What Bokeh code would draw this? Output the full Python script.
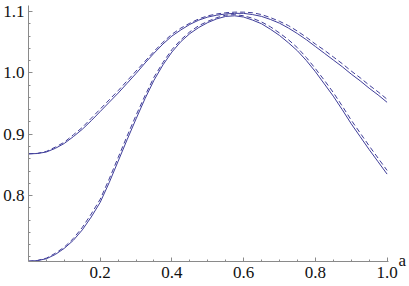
from bokeh.plotting import figure
from bokeh.models import Range1d, FixedTicker, LinearAxis
from bokeh.embed import file_html
from bokeh.resources import INLINE

# parameter a
a_vals = [0.000, 0.025, 0.050, 0.075, 0.100, 0.125, 0.150, 0.175, 0.200, 0.225,
          0.250, 0.275, 0.300, 0.325, 0.350, 0.375, 0.400, 0.425, 0.450, 0.475,
          0.500, 0.525, 0.550, 0.575, 0.600, 0.625, 0.650, 0.675, 0.700, 0.725,
          0.750, 0.775, 0.800, 0.825, 0.850, 0.875, 0.900, 0.925, 0.950, 0.975, 1.000]

upper_solid = [0.868, 0.8685, 0.871, 0.877, 0.885, 0.896, 0.908, 0.922, 0.937, 0.952,
               0.967, 0.983, 0.999, 1.016, 1.032, 1.047, 1.060, 1.070, 1.079, 1.086,
               1.091, 1.094, 1.096, 1.097, 1.097, 1.095, 1.092, 1.087, 1.081, 1.073,
               1.064, 1.054, 1.043, 1.032, 1.021, 1.010, 0.998, 0.987, 0.975, 0.964, 0.952]
upper_dashed = [0.868, 0.8688, 0.872, 0.879, 0.887, 0.899, 0.911, 0.926, 0.941, 0.956,
                0.971, 0.987, 1.003, 1.019, 1.035, 1.050, 1.063, 1.073, 1.081, 1.088,
                1.093, 1.096, 1.098, 1.099, 1.099, 1.098, 1.095, 1.090, 1.084, 1.077,
                1.068, 1.058, 1.047, 1.037, 1.026, 1.015, 1.003, 0.992, 0.980, 0.969, 0.957]
lower_solid = [0.693, 0.694, 0.697, 0.704, 0.714, 0.727, 0.744, 0.765, 0.789, 0.821,
               0.856, 0.891, 0.925, 0.958, 0.988, 1.013, 1.034, 1.051, 1.064, 1.074,
               1.082, 1.088, 1.092, 1.093, 1.091, 1.086, 1.080, 1.071, 1.061, 1.049,
               1.036, 1.020, 1.002, 0.982, 0.962, 0.940, 0.917, 0.896, 0.875, 0.855, 0.835]
lower_dashed = [0.693, 0.6942, 0.698, 0.706, 0.716, 0.730, 0.748, 0.770, 0.794, 0.827,
                0.862, 0.897, 0.931, 0.963, 0.993, 1.017, 1.038, 1.054, 1.067, 1.077,
                1.084, 1.090, 1.094, 1.095, 1.093, 1.089, 1.083, 1.075, 1.065, 1.054,
                1.041, 1.025, 1.007, 0.988, 0.968, 0.946, 0.923, 0.902, 0.881, 0.861, 0.841]

x_ticks = [0.2, 0.4, 0.6, 0.8, 1.0]
x_minor = [0.05, 0.10, 0.15, 0.25, 0.30, 0.35, 0.45, 0.50, 0.55, 0.65, 0.70, 0.75,
           0.85, 0.90, 0.95]
y_ticks = [0.8, 0.9, 1.0, 1.1]
y_minor = [0.70, 0.72, 0.74, 0.76, 0.78, 0.82, 0.84, 0.86, 0.88, 0.92, 0.94, 0.96,
           0.98, 1.02, 1.04, 1.06, 1.08]
x_label = "a"
x_label_at = 0.6935

line_color = "#3f3d99"
axis_color = "#8a8a8a"
font = "Liberation Serif"

p = figure(width=409, height=286, x_range=Range1d(0, 1.004), y_range=Range1d(0.6925, 1.1098),
           output_backend="svg", toolbar_location=None,
           min_border_left=26, min_border_right=15, min_border_top=5, min_border_bottom=25)
p.outline_line_color = None
p.xgrid.visible = False
p.ygrid.visible = False
p.background_fill_color = "white"

p.line(a_vals, upper_solid, line_color=line_color, line_width=1)
p.line(a_vals, upper_dashed, line_color=line_color, line_width=1, line_dash="5 3")
p.line(a_vals, lower_solid, line_color=line_color, line_width=1)
p.line(a_vals, lower_dashed, line_color=line_color, line_width=1, line_dash="5 3")

for ax, ticks, minor in ((p.xaxis[0], x_ticks, x_minor), (p.yaxis[0], y_ticks, y_minor)):
    ax.ticker = FixedTicker(ticks=ticks, minor_ticks=minor)
    ax.axis_line_color = axis_color
    ax.major_tick_line_color = axis_color
    ax.minor_tick_line_color = axis_color
    ax.major_tick_in = 4
    ax.major_tick_out = 0
    ax.minor_tick_in = 2
    ax.minor_tick_out = 0
    ax.major_label_text_font = font
    ax.major_label_text_font_size = "17px"
    ax.major_label_text_color = "#111111"

p.yaxis[0].bounds = (0.6925, 1.1098)
p.xaxis[0].major_label_standoff = 5
p.yaxis[0].major_label_standoff = 4
p.xaxis[0].major_label_overrides = {v: f"{v:.1f}" for v in x_ticks}
p.yaxis[0].major_label_overrides = {v: f"{v:.1f}" for v in y_ticks}

# axis name "a" at the right end of the horizontal axis
name_axis = LinearAxis(ticker=FixedTicker(ticks=[x_label_at], minor_ticks=[]),
                       major_label_overrides={x_label_at: x_label},
                       axis_line_color=None, major_tick_line_color=None,
                       minor_tick_line_color=None, major_label_standoff=4,
                       major_label_text_font=font, major_label_text_font_size="17px",
                       major_label_text_color="#111111")
p.add_layout(name_axis, "right")

open("out.html", "w").write(file_html(p, INLINE))
